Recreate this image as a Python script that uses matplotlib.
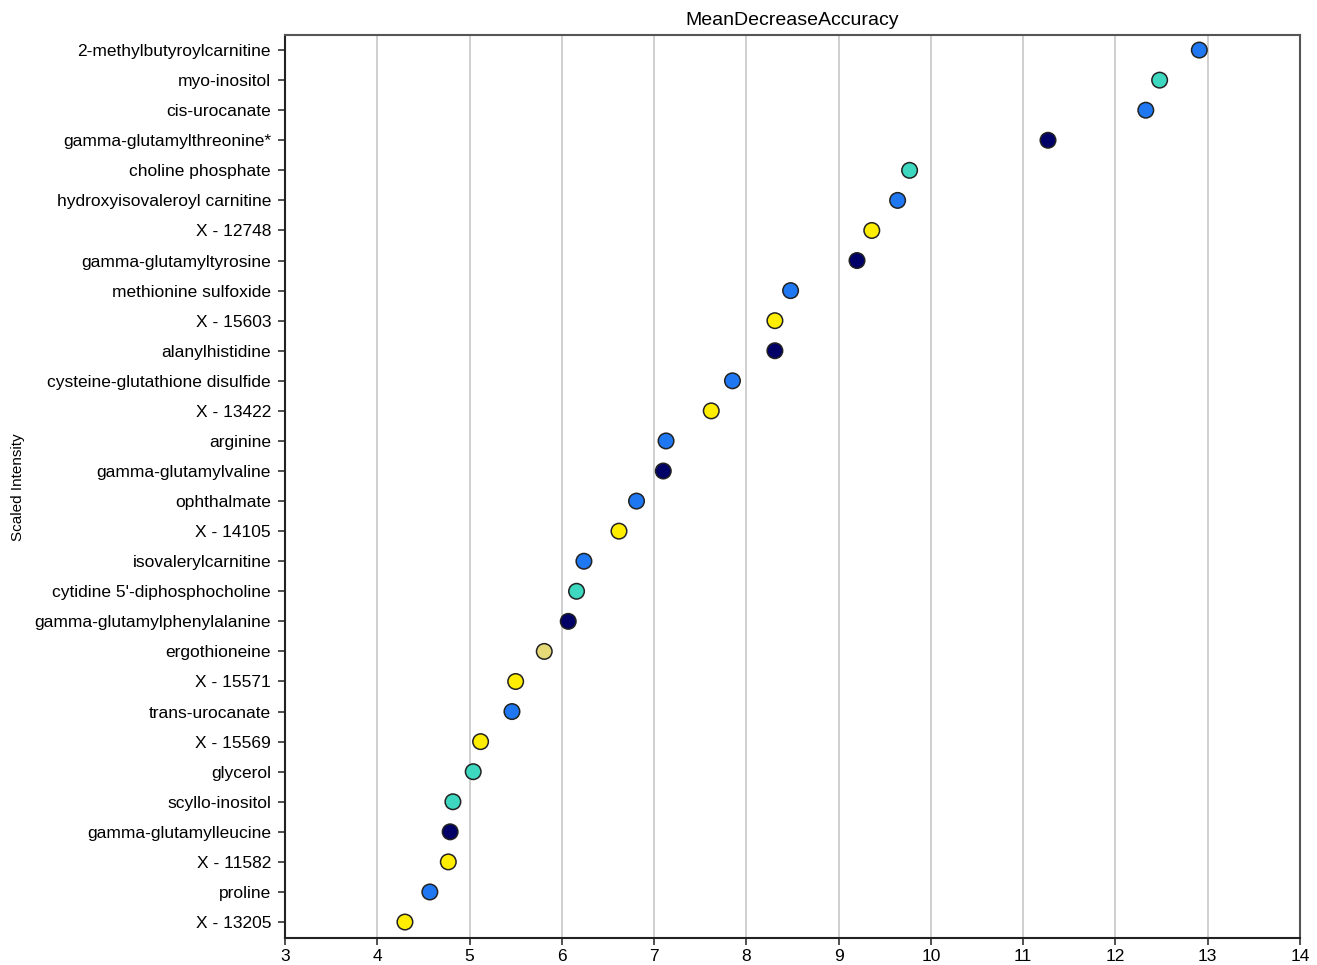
import numpy as np
import matplotlib.pyplot as plt

plt.rcParams['font.family'] = ['Liberation Sans', 'DejaVu Sans']

# top to bottom
names = ['2-methylbutyroylcarnitine', 'myo-inositol', 'cis-urocanate',
         'gamma-glutamylthreonine*', 'choline phosphate',
         'hydroxyisovaleroyl carnitine', 'X - 12748', 'gamma-glutamyltyrosine',
         'methionine sulfoxide', 'X - 15603', 'alanylhistidine',
         'cysteine-glutathione disulfide', 'X - 13422', 'arginine',
         'gamma-glutamylvaline', 'ophthalmate', 'X - 14105',
         'isovalerylcarnitine', "cytidine 5'-diphosphocholine",
         'gamma-glutamylphenylalanine', 'ergothioneine', 'X - 15571',
         'trans-urocanate', 'X - 15569', 'glycerol', 'scyllo-inositol',
         'gamma-glutamylleucine', 'X - 11582', 'proline', 'X - 13205']
values = [12.91, 12.48, 12.33, 11.27, 9.77, 9.64, 9.36, 9.20, 8.48, 8.31,
          8.31, 7.85, 7.62, 7.13, 7.10, 6.81, 6.62, 6.24, 6.16, 6.07,
          5.81, 5.50, 5.46, 5.12, 5.04, 4.82, 4.79, 4.77, 4.57, 4.30]
groups = ['blue', 'teal', 'blue', 'navy', 'teal', 'blue', 'yellow', 'navy',
          'blue', 'yellow', 'navy', 'blue', 'yellow', 'blue', 'navy', 'blue',
          'yellow', 'blue', 'teal', 'navy', 'khaki', 'yellow', 'blue',
          'yellow', 'teal', 'teal', 'navy', 'yellow', 'blue', 'yellow']
palette = {'blue': '#1f78f2', 'teal': '#3ed8c0', 'navy': '#000066',
           'yellow': '#ffee00', 'khaki': '#e6da78'}

fig = plt.figure(figsize=(13.17, 9.65), dpi=100)
ax = fig.add_axes([0.2164, 0.028, 0.7706, 0.9357])

ypos = np.arange(len(names))[::-1]
ax.scatter(values, ypos, s=125, c=[palette[g] for g in groups],
           edgecolors='#222222', linewidths=1.1, zorder=3)

ax.set_xlim(3, 14)
ax.set_xticks(range(3, 15))
ax.set_ylim(-0.53, len(names) - 0.5)
ax.set_yticks(ypos)
ax.set_yticklabels(names)
ax.grid(axis='x', color='#cccccc', linewidth=1.3)
ax.set_axisbelow(True)
ax.tick_params(axis='both', labelsize=12.5, length=5, width=1.2, color='#333333')
ax.tick_params(axis='x', pad=3)
ax.tick_params(axis='y', pad=5)
for side in ['left', 'bottom']:
    ax.spines[side].set_color('#222222')
    ax.spines[side].set_linewidth(1.5)
for side in ['top', 'right']:
    ax.spines[side].set_color('#555555')
    ax.spines[side].set_linewidth(1.5)

ax.set_title('MeanDecreaseAccuracy', fontsize=14, pad=7)
fig.text(0.014, 0.495, 'Scaled Intensity', rotation=90, fontsize=11,
         ha='center', va='center')

fig.savefig('out.png', dpi=100)
